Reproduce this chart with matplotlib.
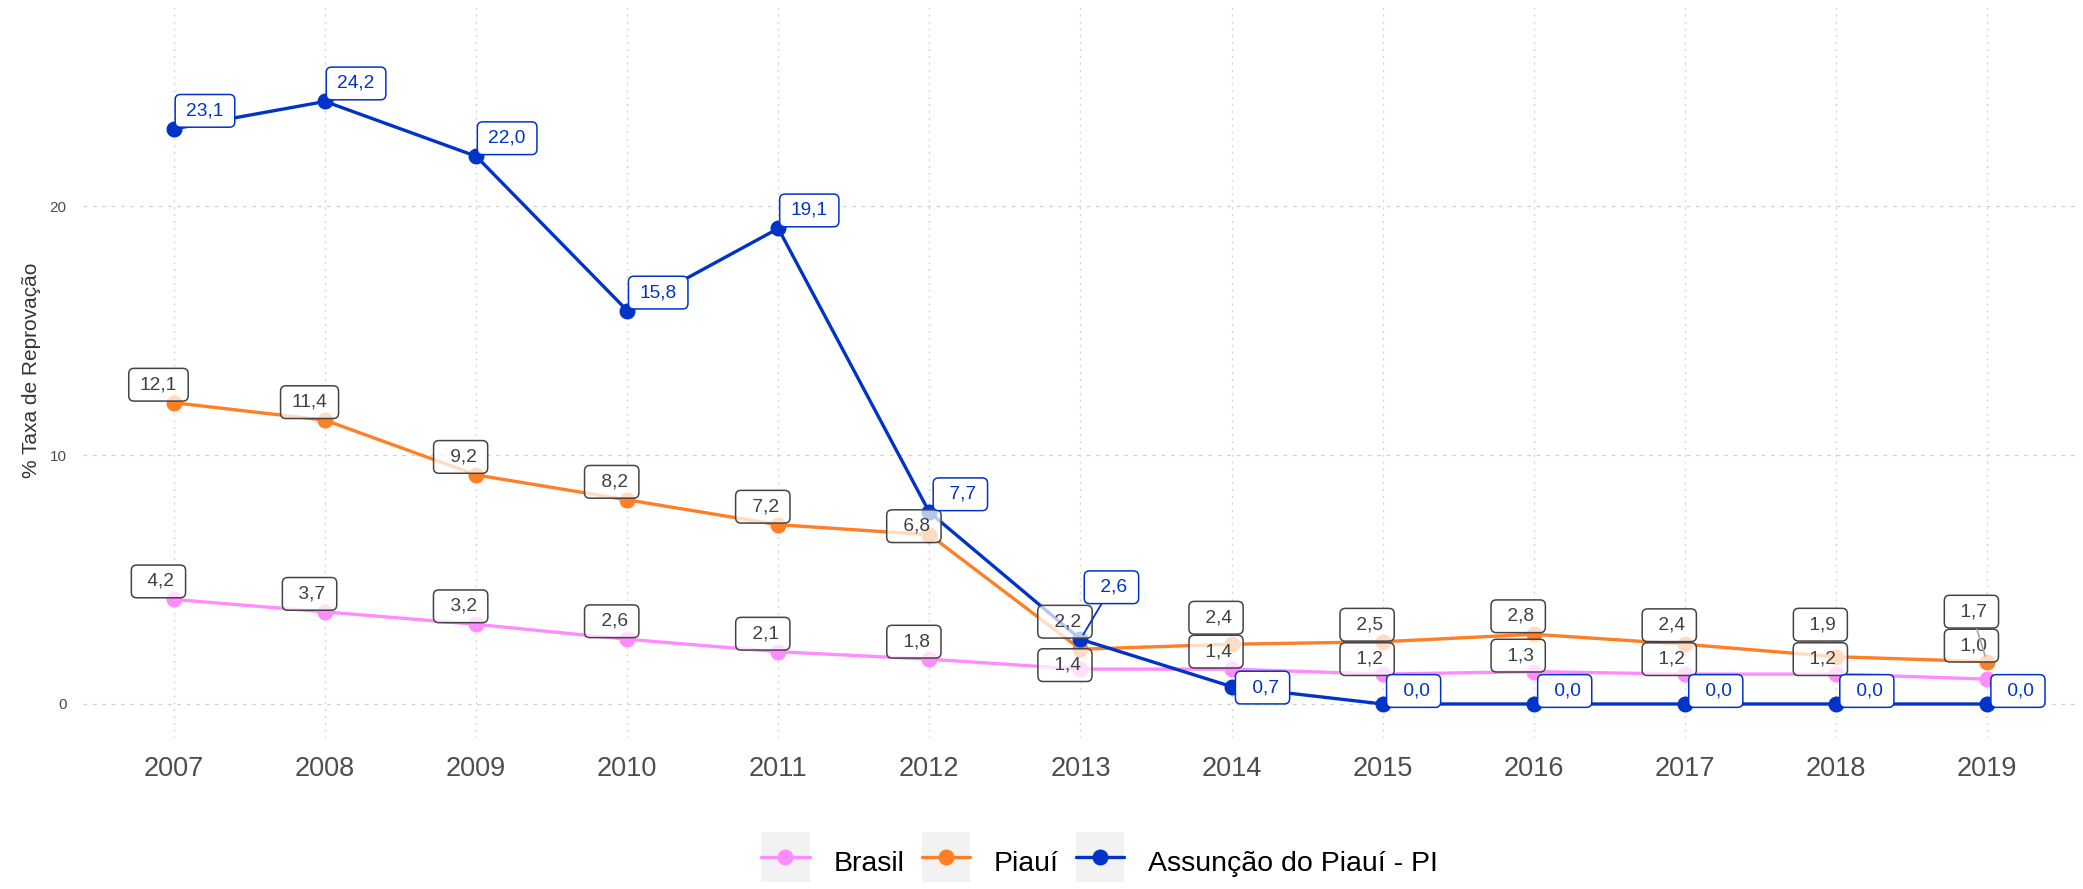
import matplotlib
matplotlib.use("Agg")
import matplotlib.pyplot as plt
from matplotlib.patches import BoxStyle, Rectangle
from matplotlib.lines import Line2D
from matplotlib.legend_handler import HandlerLine2D

plt.rcParams['font.family'] = ['Liberation Sans', 'DejaVu Sans']

years = [2007, 2008, 2009, 2010, 2011, 2012, 2013, 2014, 2015, 2016, 2017, 2018, 2019]
brasil = [4.2, 3.7, 3.2, 2.6, 2.1, 1.8, 1.4, 1.4, 1.2, 1.3, 1.2, 1.2, 1.0]
piaui = [12.1, 11.4, 9.2, 8.2, 7.2, 6.8, 2.2, 2.4, 2.5, 2.8, 2.4, 1.9, 1.7]
assuncao = [23.1, 24.2, 22.0, 15.8, 19.1, 7.7, 2.6, 0.7, 0.0, 0.0, 0.0, 0.0, 0.0]
names = ["Brasil", "Piauí", "Assunção do Piauí - PI"]
yticks = [0, 10, 20]

colors = ["#FF8CFF", "#FF7F27", "#0033C8"]

# label shifts in pixels (x to the right, y downwards), tuned so boxes don't collide
brasil_dx = -15.5
brasil_dy = [-18, -18, -18, -18, -18, -17.5, -4, -17.5, -15, -16, -15, -15, -33.5]
piaui_dx = -15.5
piaui_dy = [-18, -18, -18, -18, -18, -8.5, -27.5, -26.5, -17, -18, -19, -32, -50]
assuncao_dx = 31
assuncao_dy = [-18, -18, -18, -18, -18, -18, -52, 1, -13, -13, -13, -13, -13]


class WideRound:
    """Rounded box with a bit more padding left/right than top/bottom."""

    def __init__(self, pad=0.41, extra=0.17, rounding=0.28):
        self.base = BoxStyle.Round(pad=pad, rounding_size=rounding)
        self.extra = extra

    def __call__(self, x0, y0, width, height, mutation_size):
        dx = self.extra * mutation_size
        return self.base(x0 - dx, y0, width + 2 * dx, height, mutation_size)


class KeyWithBackground(HandlerLine2D):
    def create_artists(self, legend, orig_handle, xdescent, ydescent,
                       width, height, fontsize, trans):
        bg = Rectangle((-xdescent, -ydescent), width, height + ydescent,
                       facecolor="#F2F2F2", edgecolor="none", transform=trans)
        arts = super().create_artists(legend, orig_handle, xdescent, ydescent,
                                      width, height, fontsize, trans)
        return [bg] + arts


fig = plt.figure(figsize=(20.83, 8.89), dpi=100)
ax = fig.add_axes([0.04, 0.1703, 0.9574, 0.8262])

handles = []
for vals, c, name in zip([brasil, piaui, assuncao], colors, names):
    h, = ax.plot(years, vals, color=c, lw=2.4, marker="o", ms=10.5,
                 solid_capstyle="round", label=name, zorder=3)
    handles.append(h)


def put_labels(values, dx, dys, text_color, edge_color, fill_alpha, seg_color):
    for x, v, dy in zip(years, values, dys):
        arrow = None
        if abs(dy) > 40:
            arrow = dict(arrowstyle="-", color=seg_color, lw=1.3,
                         shrinkA=0, shrinkB=4)
        ax.annotate(f"{v:4.1f}".replace(".", ","), xy=(x, v),
                    xytext=(dx, -dy), textcoords="offset pixels",
                    ha="center", va="center", fontsize=13.8, color=text_color,
                    bbox=dict(boxstyle=WideRound(), fc=(1, 1, 1, fill_alpha),
                              ec=edge_color, lw=1.1),
                    arrowprops=arrow, zorder=6)


put_labels(brasil, brasil_dx, brasil_dy, "#404040", "#444444", 0.72, "#AAAAAA")
put_labels(piaui, piaui_dx, piaui_dy, "#404040", "#444444", 0.72, "#AAAAAA")
put_labels(assuncao, assuncao_dx, assuncao_dy, colors[2], colors[2], 1.0, colors[2])

ax.set_xlim(2006.4, 2019.6)
ax.set_ylim(-1.35, 28.15)
ax.set_xticks(years)
ax.set_yticks(yticks)
ax.tick_params(axis="x", length=0, pad=13, labelsize=19.5, labelcolor="#4D4D4D")
ax.tick_params(axis="y", length=0, pad=12, labelsize=11, labelcolor="#4D4D4D")
for s in ax.spines.values():
    s.set_visible(False)

ax.xaxis.grid(True, color="#D0D0D0", lw=0.9, linestyle=(0, (1.5, 4)))
ax.yaxis.grid(True, color="#D0D0D0", lw=0.9, linestyle=(0, (3, 4.5)))
ax.set_axisbelow(True)

ax.set_ylabel("% Taxa de Reprovação", fontsize=15, color="#333333")
ax.yaxis.set_label_coords(-0.021, 0.5)

fig.legend(handles, names, loc="center", bbox_to_anchor=(0.528, 0.0304),
           ncol=3, frameon=False, fontsize=20.5, handlelength=1.69,
           handleheight=1.76, handletextpad=0.85, columnspacing=0.6,
           handler_map={Line2D: KeyWithBackground(numpoints=1)})

fig.savefig("out.png", dpi=100)
